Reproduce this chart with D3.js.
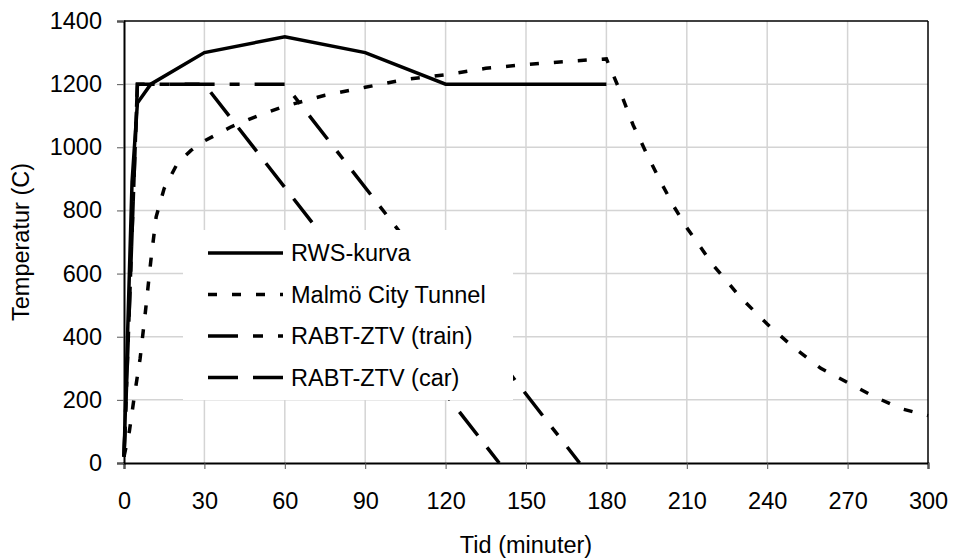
<!DOCTYPE html>
<html>
<head>
<meta charset="utf-8">
<script src="https://cdn.jsdelivr.net/npm/d3@7"></script>
<style>
  body { margin: 0; background: #fff; }
  text { font-family: "Liberation Sans", Arial, sans-serif; fill: #000; }
</style>
</head>
<body>
<svg id="chart" width="954" height="559"></svg>
<script>
// ============= Data =============

const xTicks = [0, 30, 60, 90, 120, 150, 180, 210, 240, 270, 300];
const yTicks = [0, 200, 400, 600, 800, 1000, 1200, 1400];

const rwsCurve = [
  [0, 20], [3, 890], [5, 1140], [10, 1200], [30, 1300], [60, 1350],
  [90, 1300], [120, 1200], [180, 1200],
];

const malmoCurve = [
  [0, 20], [2, 100], [4, 220], [6, 330], [8, 480], [10, 640], [12, 780],
  [15, 870], [20, 950], [25, 990], [30, 1020], [40, 1065], [50, 1100],
  [60, 1130], [75, 1165], [90, 1190], [105, 1215], [120, 1230], [135, 1250],
  [150, 1262], [165, 1272], [180, 1280], [185, 1180], [190, 1070],
  [195, 980], [200, 895], [205, 815], [210, 745], [220, 625], [230, 525],
  [240, 440], [250, 365], [260, 300], [270, 255], [280, 210], [290, 172],
  [300, 150],
];

const rabtTrain = [[0, 20], [5, 1200], [60, 1200], [170, 0]];
const rabtCar = [[0, 20], [5, 1200], [30, 1200], [140, 0]];

const seriesNames = ["RWS-kurva", "Malmö City Tunnel", "RABT-ZTV (train)", "RABT-ZTV (car)"];
const seriesData = [rwsCurve, malmoCurve, rabtTrain, rabtCar];
const seriesDash = [null, "9,15", "30,15,10,15", "30,15"];

// ============= Layout =============

const MARGIN = { LEFT: 124, TOP: 21, RIGHT: 26, BOTTOM: 96 };
const svg = d3.select("#chart");
const width = 954 - MARGIN.LEFT - MARGIN.RIGHT;
const height = 559 - MARGIN.TOP - MARGIN.BOTTOM;
const FONT = "23.5px";

const g = svg.append("g").attr("transform", `translate(${MARGIN.LEFT},${MARGIN.TOP})`);

const xScale = d3.scaleLinear().domain([0, 300]).range([0, width]);
const yScale = d3.scaleLinear().domain([0, 1400]).range([height, 0]);

// grid
g.selectAll(".grid-y")
  .data(yTicks.slice(1, -1))
  .enter()
  .append("line")
  .attr("x1", 0)
  .attr("x2", width)
  .attr("y1", yScale)
  .attr("y2", yScale)
  .attr("stroke", "#d4d4d4")
  .attr("stroke-width", 1.5);

g.selectAll(".grid-x")
  .data(xTicks.slice(1, -1))
  .enter()
  .append("line")
  .attr("x1", xScale)
  .attr("x2", xScale)
  .attr("y1", 0)
  .attr("y2", height)
  .attr("stroke", "#d4d4d4")
  .attr("stroke-width", 1.5);

// plot frame top / right
g.append("line").attr("x1", 0).attr("x2", width).attr("y1", 0).attr("y2", 0)
  .attr("stroke", "#000").attr("stroke-width", 1.5);
g.append("line").attr("x1", width).attr("x2", width).attr("y1", 0).attr("y2", height)
  .attr("stroke", "#000").attr("stroke-width", 1.5);

// series
const line = d3.line().x((d) => xScale(d[0])).y((d) => yScale(d[1]));

seriesData.forEach((data, i) => {
  g.append("path")
    .datum(data)
    .attr("fill", "none")
    .attr("stroke", "#000")
    .attr("stroke-width", 3.5)
    .attr("stroke-dasharray", seriesDash[i])
    .attr("d", line);
});

// legend background covers grid and lines
const legendBox = { x: 59, y: 209, w: 330, h: 170 };
g.append("rect")
  .attr("x", legendBox.x)
  .attr("y", legendBox.y)
  .attr("width", legendBox.w)
  .attr("height", legendBox.h)
  .attr("fill", "#fff");

// axes
const xAxis = g.append("g")
  .attr("transform", `translate(0,${height})`)
  .call(d3.axisBottom(xScale).tickValues(xTicks).tickSize(6).tickPadding(23).tickFormat(d3.format("d")));

const yAxis = g.append("g")
  .call(d3.axisLeft(yScale).tickValues(yTicks).tickSize(7).tickPadding(15).tickFormat(d3.format("d")));

[xAxis, yAxis].forEach((axis) => {
  axis.select(".domain").attr("stroke", "#000").attr("stroke-width", 2);
  axis.selectAll(".tick line").attr("stroke", "#555").attr("stroke-width", 1);
  axis.selectAll("text").style("font-size", FONT).style("font-family", "Liberation Sans, Arial, sans-serif").attr("fill", "#000");
});

// axis titles
g.append("text")
  .attr("x", width / 2)
  .attr("y", height + 90)
  .attr("text-anchor", "middle")
  .style("font-size", FONT)
  .text("Tid (minuter)");

g.append("text")
  .attr("transform", "rotate(-90)")
  .attr("x", -height / 2)
  .attr("y", -95)
  .attr("text-anchor", "middle")
  .style("font-size", FONT)
  .text("Temperatur (C)");

// legend
const legend = g.append("g").attr("transform", `translate(${legendBox.x + 25},${legendBox.y + 23})`);
seriesNames.forEach((name, i) => {
  const row = legend.append("g").attr("transform", `translate(0,${i * 41.5})`);
  row.append("line")
    .attr("x1", 0)
    .attr("x2", 75)
    .attr("y1", 0)
    .attr("y2", 0)
    .attr("stroke", "#000")
    .attr("stroke-width", 3.5)
    .attr("stroke-dasharray", seriesDash[i]);
  row.append("text")
    .attr("x", 83)
    .attr("y", 0)
    .attr("dy", "0.35em")
    .style("font-size", FONT)
    .text(name);
});
</script>
</body>
</html>
